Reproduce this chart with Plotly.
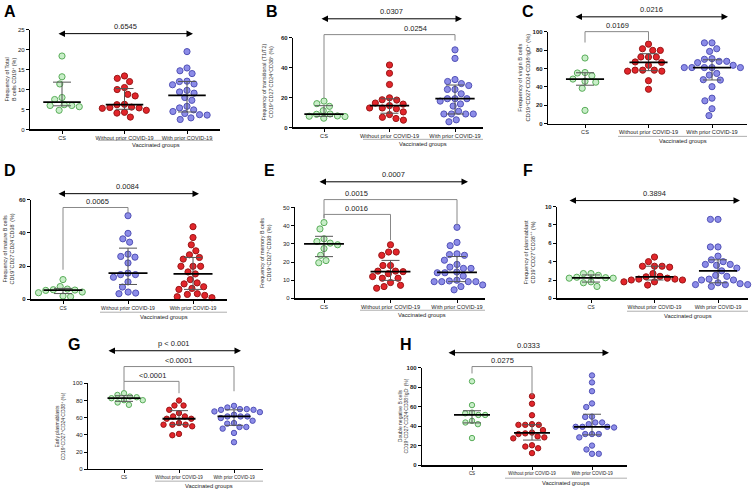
import numpy as np
import plotly.graph_objects as go

W, H = 753, 496

groups = ["CS", "Without prior COVID-19", "With prior COVID-19"]

# values (%)
a_cs = [18.4, 13.2, 11.4, 8.0, 7.5, 6.2, 6.0, 6.0, 5.7, 4.8]
a_without = [13.4, 12.8, 12.0, 10.5, 10.0, 8.8, 8.4, 6.3, 6.2, 5.6, 5.5, 5.4, 5.3, 4.8, 4.3, 4.1, 3.1]
a_with = [19.5, 15.4, 14.7, 14.0, 12.1, 12.0, 11.4, 11.2, 9.8, 9.4, 9.1, 8.0, 7.3, 5.8, 5.4, 4.9, 4.5, 4.0, 3.7, 3.6, 2.9, 2.5]

b_cs = [17.6, 15.9, 14.1, 11.2, 9.0, 8.8, 7.7, 7.5, 7.3, 6.2]
b_without = [41.7, 36.2, 28.7, 19.8, 18.5, 18.3, 16.3, 15.6, 14.6, 13.0, 13.0, 12.5, 10.4, 8.6, 6.8, 6.0, 4.9]
b_with = [51.8, 46.1, 32.0, 30.7, 29.3, 28.0, 25.4, 25.4, 22.5, 19.2, 19.2, 19.2, 17.6, 15.7, 14.3, 10.8, 9.0, 9.0, 9.0, 9.0, 5.1, 3.8]

c_cs = [71.3, 55.5, 55.0, 52.0, 48.4, 46.0, 45.0, 38.4, 14.3]
c_without = [86.4, 81.4, 79.6, 79.6, 72.4, 72.4, 72.4, 67.0, 66.5, 63.4, 58.1, 58.1, 58.1, 57.0, 57.0, 46.6, 37.3]
c_with = [87.8, 87.8, 81.4, 78.5, 70.6, 69.9, 67.7, 67.7, 66.3, 63.4, 60.9, 60.9, 60.9, 60.9, 60.9,
          54.5, 52.7, 47.7, 47.3, 40.1, 27.6, 24.7, 16.1, 8.6]

d_cs = [11.9, 7.7, 6.2, 5.8, 5.6, 5.4, 4.4, 4.0, 2.0, 1.6]
d_without = [50.3, 39.7, 36.4, 34.4, 27.2, 25.8, 25.4, 21.9, 15.8, 14.9, 14.9, 13.3, 10.5, 7.4, 4.4, 3.8, 3.4]
d_with = [43.7, 37.2, 32.8, 29.2, 26.8, 25.2, 24.2, 19.9, 19.9, 19.9, 16.5, 15.3, 11.9, 9.9, 9.3, 7.6,
          6.6, 6.0, 3.4, 3.0, 2.4, 1.6, 1.0]

e_cs = [41.7, 38.2, 32.8, 31.3, 30.4, 29.5, 27.4, 23.7, 20.8, 19.6]
e_without = [29.5, 25.5, 25.5, 23.7, 18.1, 18.1, 15.0, 15.0, 14.7, 13.6, 12.0, 11.1, 11.1, 8.7, 7.2, 6.5, 5.6]
e_with = [39.1, 30.8, 29.0, 24.5, 24.1, 23.7, 21.0, 18.7, 17.2, 16.5, 16.5, 14.5, 14.1, 14.1, 12.3, 10.0,
          9.6, 9.2, 9.2, 9.2, 9.2, 7.4, 6.5, 4.7]

f_cs = [2.7, 2.7, 2.5, 2.3, 2.25, 2.2, 2.2, 1.8, 1.7, 1.3]
f_without = [4.5, 4.0, 3.5, 3.5, 3.5, 3.4, 2.7, 2.4, 2.35, 2.2, 2.1, 2.1, 2.0, 2.0, 1.8, 1.8, 1.45]
f_with = [8.6, 8.6, 5.6, 5.6, 4.6, 4.2, 4.0, 3.7, 3.7, 3.6, 3.3, 3.0, 2.5, 2.4, 2.1, 2.0, 2.0, 1.7, 1.6,
          1.5, 1.5, 1.5, 1.3]

g_cs = [88.5, 86.5, 84.6, 83.8, 82.7, 80.4, 80.4, 77.7, 75.0]
g_without = [80.0, 74.2, 74.2, 69.2, 65.4, 61.5, 61.5, 58.8, 58.8, 53.8, 51.9, 51.9, 51.9, 50.0, 41.2, 39.6]
g_with = [73.8, 71.9, 70.0, 70.0, 69.2, 69.2, 67.3, 66.5, 63.5, 61.5, 61.5, 61.5, 59.6, 56.5, 53.8, 53.1,
          49.2, 49.2, 47.3, 42.3, 31.5]

h_cs = [85.9, 61.6, 53.9, 53.2, 51.5, 51.5, 45.5, 43.8, 42.1, 27.9]
h_without = [70.7, 63.0, 51.2, 42.1, 41.4, 41.4, 41.4, 36.0, 33.5, 32.7, 32.0, 29.6, 28.6, 27.6, 20.5,
             19.2, 17.5, 12.5]
h_with = [91.9, 84.8, 75.8, 63.3, 59.6, 49.8, 49.5, 43.8, 43.8, 42.1, 39.4, 39.4, 39.4, 38.7, 32.0, 32.0,
          32.0, 28.6, 20.2, 16.2, 11.8, 11.8]

y_titles = [
    "Frequency of Total<br>B cells CD19<sup>+</sup> (%)",
    "Frequency of transitional (T1/T2)<br>CD19<sup>+</sup>CD27<sup>-</sup>CD24<sup>+</sup>CD38<sup>+</sup> (%)",
    "Frequency of virgin B cells<br>CD19<sup>+</sup>CD27<sup>-</sup>CD24<sup>-</sup>CD38<sup>-</sup>IgD<sup>+</sup> (%)",
    "Frequency of mature B cells<br>CD19<sup>+</sup>CD27<sup>-</sup>CD24<sup>-</sup>CD38<sup>-</sup> (%)",
    "Frequency of memory B cells<br>CD19<sup>+</sup>CD27<sup>+</sup>CD38<sup>-</sup> (%)",
    "Frequency of plasmablast<br>CD19<sup>+</sup>CD27<sup>+</sup>CD38<sup>++</sup> (%)",
    "Early plasmablasts<br>CD19<sup>+</sup>CD27<sup>+</sup>CD24<sup>-</sup>CD38<sup>+</sup> (%)",
    "Double negative B cells<br>CD19<sup>+</sup>CD27<sup>-</sup>CD24<sup>-</sup>CD38<sup>-</sup>IgD<sup>-</sup> (%)",
]
letters = ["A", "B", "C", "D", "E", "F", "G", "H"]
overall_p = ["0.6545", "0.0307", "0.0216", "0.0084", "0.0007", "0.3894", "p < 0.001", "0.0333"]

GREEN = ("#c8eec8", "#5aad5a")
RED = ("#e2252b", "#9a1717")
BLUE = ("#8c8ce8", "#5252b6")

FONT = "Arial, Liberation Sans, sans-serif"

# panel geometry in pixels
panels = [
    dict(data=[a_cs, a_without, a_with], colors=[GREEN, RED, BLUE], left=30, right=220, y0=128, ytop=27,
         ymax=25, dtick=5, cats=(62, 124, 187), bold=False, catfont=5.5, msize=6.2,
         grp=(98, 213, 139), arrow=(57, 193, 31), letter=(10, 9), ytx=11, ytf=5.4,
         brackets=[]),
    dict(data=[b_cs, b_without, b_with], colors=[GREEN, RED, BLUE], left=293, right=483, y0=126, ytop=35,
         ymax=60, dtick=20, cats=(324, 390, 455), bold=True, catfont=5.6, msize=6.2,
         grp=(363, 483, 138), arrow=(320, 462, 16), letter=(272, 9), ytx=268, ytf=5.3,
         brackets=[(0, 2, 32, 97, 38, "0.0254", 416)]),
    dict(data=[c_cs, c_without, c_with], colors=[GREEN, RED, BLUE], left=548, right=747, y0=122, ytop=29,
         ymax=100, dtick=20, cats=(585, 648, 712), bold=True, catfont=5.6, msize=6.2,
         grp=(618, 747, 135), arrow=(574, 728, 14), letter=(528, 9), ytx=524, ytf=5.8,
         brackets=[(0, 1, 29, 40, 38, "0.0169", 617)]),
    dict(data=[d_cs, d_without, d_with], colors=[GREEN, BLUE, RED], left=31, right=227, y0=300, ytop=199,
         ymax=60, dtick=20, cats=(63, 128, 193), bold=True, catfont=5.1, msize=6.2,
         grp=(100, 227, 313), arrow=(57, 199, 193), letter=(10, 170), ytx=8, ytf=5.4,
         brackets=[(0, 1, 207, 270, 213, "0.0065", 97)]),
    dict(data=[e_cs, e_without, e_with], colors=[GREEN, RED, BLUE], left=295, right=485, y0=299, ytop=207,
         ymax=50, dtick=10, cats=(324, 390, 457), bold=False, catfont=5.6, msize=6.2,
         grp=(360, 485, 311), arrow=(318, 468, 181), letter=(269, 170), ytx=266, ytf=5.4,
         brackets=[(0, 2, 199, 218, 225, "0.0015", 356), (0, 1, 214, 218, 240, "0.0016", 356)]),
    dict(data=[f_cs, f_without, f_with], colors=[GREEN, RED, BLUE], left=557, right=748, y0=299, ytop=206,
         ymax=10, dtick=2, cats=(591, 653, 718), bold=True, catfont=5.1, msize=6.2,
         grp=(627, 748, 312), arrow=(568, 740, 200), letter=(528, 170), ytx=529, ytf=5.6,
         brackets=[]),
    dict(data=[g_cs, g_without, g_with], colors=[GREEN, RED, BLUE], left=88, right=263, y0=472, ytop=385,
         ymax=100, dtick=20, cats=(124, 180, 234), bold=False, catfont=4.5, msize=5.4,
         grp=(155, 263, 484), arrow=(107, 241, 352), letter=(74, 346), ytx=60, ytf=5.0,
         brackets=[(0, 2, 368, 383, 393, "<0.0001", 178), (0, 1, 383, 392, 395, "<0.0001", 152)]),
    dict(data=[h_cs, h_without, h_with], colors=[GREEN, RED, BLUE], left=422, right=627, y0=468, ytop=369,
         ymax=100, dtick=20, cats=(472, 532, 592), bold=True, catfont=4.5, msize=5.4,
         grp=(505, 627, 481), arrow=(447, 609, 354), letter=(406, 346), ytx=403, ytf=5.0,
         brackets=[(0, 1, 368, 375, 397, "0.0275", 502)]),
]


def fx(px):
    return px / W


def fy(py):
    return 1 - py / H


def swarm(vals, ppu, d):
    # simple beeswarm: put each point as close to the centre as it fits
    ys = np.asarray(vals, dtype=float) * ppu
    xs = np.zeros(len(ys))
    placed = []
    for i in np.argsort(-ys, kind="stable"):
        y = ys[i]
        cands = [0.0]
        for px, py in placed:
            dy = abs(py - y)
            if dy < d:
                dx = np.sqrt(d * d - dy * dy)
                cands += [px - dx, px + dx]
        cands.sort(key=lambda c: (abs(c), c))
        xi = None
        for c in cands:
            if all((c - px) ** 2 + (y - py) ** 2 >= d * d - 1e-6 for px, py in placed):
                xi = c
                break
        if xi is None:
            xi = max(abs(c) for c in cands) + d
        xs[i] = xi
        placed.append((xi, y))
    return xs


fig = go.Figure()
shapes = []
annotations = []

for k, p in enumerate(panels, start=1):
    xa = "x" if k == 1 else f"x{k}"
    ya = "y" if k == 1 else f"y{k}"
    c0, c1, c2 = p["cats"]
    s = (c2 - c0) / 2
    ppu = (p["y0"] - p["ytop"]) / p["ymax"]

    for g, (vals, col) in enumerate(zip(p["data"], p["colors"])):
        off = swarm(vals, ppu, p["msize"] + 1.4) / s
        fig.add_trace(go.Scatter(
            x=g + off, y=vals, mode="markers", xaxis=xa, yaxis=ya, cliponaxis=False,
            marker=dict(size=p["msize"], color=col[0], line=dict(color=col[1], width=1)),
            hoverinfo="y", showlegend=False))

    for g, vals in enumerate(p["data"]):
        med = float(np.median(vals))
        q1, q3 = np.percentile(vals, [25, 75], method="weibull")
        fig.add_trace(go.Scatter(
            x=[g], y=[med], mode="markers", xaxis=xa, yaxis=ya, cliponaxis=False,
            marker=dict(size=1, color="rgba(0,0,0,0)"),
            error_y=dict(type="data", symmetric=False, array=[q3 - med], arrayminus=[med - q1],
                         color="#555555", thickness=1, width=9),
            hoverinfo="skip", showlegend=False))
        fig.add_trace(go.Scatter(
            x=[g - 0.3, g + 0.3], y=[med, med], mode="lines", xaxis=xa, yaxis=ya, cliponaxis=False,
            line=dict(color="black", width=1.8), hoverinfo="skip", showlegend=False))

    sfx = "" if k == 1 else str(k)
    fig.layout["xaxis" + sfx] = dict(
        domain=[fx(p["left"]), fx(p["right"])], anchor=ya,
        range=[(p["left"] - c0) / s, (p["right"] - c0) / s],
        tickvals=[0, 1, 2], ticktext=groups, showline=True, linecolor="black", linewidth=1.2,
        ticks="outside", ticklen=3, tickwidth=1, tickcolor="black", showgrid=False, zeroline=False,
        tickfont=dict(family=FONT, size=p["catfont"], color="#222"), fixedrange=True)
    fig.layout["yaxis" + sfx] = dict(
        domain=[fy(p["y0"]), fy(p["ytop"])], anchor=xa, range=[0, p["ymax"]], dtick=p["dtick"],
        showline=True, linecolor="black", linewidth=1.2, ticks="outside", ticklen=3, tickwidth=1,
        tickcolor="black", showgrid=False, zeroline=False,
        tickfont=dict(family=FONT, size=6, color="#222", weight="bold" if p["bold"] else "normal"),
        fixedrange=True)

    # y title
    annotations.append(dict(
        x=fx(p["ytx"]), y=fy((p["y0"] + p["ytop"]) / 2), xref="paper", yref="paper",
        text=y_titles[k - 1], textangle=-90, showarrow=False, xanchor="center", yanchor="middle",
        font=dict(family=FONT, size=p["ytf"], color="#333")))

    # panel letter
    annotations.append(dict(
        x=fx(p["letter"][0]), y=fy(p["letter"][1]), xref="paper", yref="paper", text=letters[k - 1],
        showarrow=False, xanchor="center", yanchor="middle",
        font=dict(family=FONT, size=16, color="black", weight="bold")))

    # vaccinated groups line + label
    gx0, gx1, gy = p["grp"]
    shapes.append(dict(type="line", xref="paper", yref="paper", x0=fx(gx0), x1=fx(gx1), y0=fy(gy), y1=fy(gy),
                       line=dict(color="#999999", width=0.8)))
    annotations.append(dict(
        x=fx((gx0 + gx1) / 2), y=fy(gy + 5), xref="paper", yref="paper", text="Vaccinated groups",
        showarrow=False, xanchor="center", yanchor="middle",
        font=dict(family=FONT, size=5.8, color="#222")))

    # overall comparison arrow
    ax0, ax1, ay = p["arrow"]
    annotations.append(dict(
        x=fx(ax1), y=fy(ay), xref="paper", yref="paper", ax=-(ax1 - ax0), ay=0, text="",
        showarrow=True, arrowhead=2, arrowside="end+start", arrowsize=1.3, arrowwidth=1,
        arrowcolor="black"))
    annotations.append(dict(
        x=fx((ax0 + ax1) / 2), y=fy(ay - 7), xref="paper", yref="paper", text=overall_p[k - 1],
        showarrow=False, xanchor="center", yanchor="middle",
        font=dict(family=FONT, size=7.5, color="#222")))

    # pairwise brackets
    for ga, gb, by, leg_a, leg_b, txt, tx in p["brackets"]:
        xa_px = c0 + ga * s
        xb_px = c0 + gb * s
        shapes.append(dict(
            type="path", xref="paper", yref="paper",
            path=f"M {fx(xa_px)},{fy(leg_a)} L {fx(xa_px)},{fy(by)} L {fx(xb_px)},{fy(by)} L {fx(xb_px)},{fy(leg_b)}",
            line=dict(color="#888888", width=1)))
        annotations.append(dict(
            x=fx(tx), y=fy(by - 6), xref="paper", yref="paper", text=txt, showarrow=False,
            xanchor="center", yanchor="middle", font=dict(family=FONT, size=7.5, color="#222")))

fig.update_layout(
    width=W, height=H, margin=dict(l=0, r=0, t=0, b=0),
    paper_bgcolor="white", plot_bgcolor="white", showlegend=False,
    shapes=shapes, annotations=annotations, font=dict(family=FONT))

# drop the default page margin so the figure sits at the window origin
fig.write_html("out.html", config={"displayModeBar": False, "staticPlot": True},
               post_script="document.body.style.margin='0';document.body.style.overflow='hidden';")
